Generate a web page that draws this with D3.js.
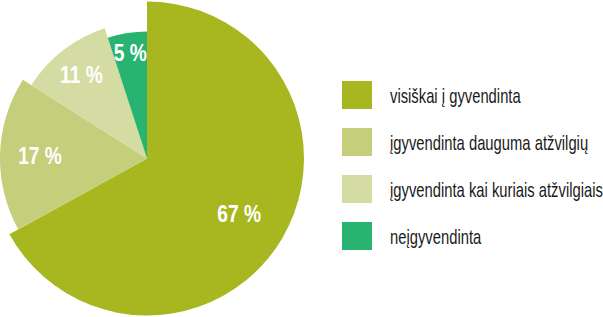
<!DOCTYPE html>
<html>
<head>
<meta charset="utf-8">
<script src="https://cdn.jsdelivr.net/npm/d3@7"></script>
<style>
  body { margin: 0; background: #fff; }
  svg { display: block; }
  .legend text { font-family: "Liberation Sans", Arial, sans-serif; font-size: 20px; fill: #1a1a1a; }
  .lbl { font-family: "Liberation Sans", Arial, sans-serif; font-weight: bold; font-size: 24px; fill: #fff; }
</style>
</head>
<body>
<div id="chart"></div>
<script>
// data
var categories = ["visiškai į gyvendinta", "įgyvendinta dauguma atžvilgių", "įgyvendinta kai kuriais atžvilgiais", "neįgyvendinta"];
var values = [67, 17, 11, 5];
var colors = ["#a8b71f", "#c4ce7b", "#d4dca3", "#28b470"];

var width = 603, height = 317;
var cx = 147, cy = 158.5;

var svg = d3.select("#chart").append("svg")
  .attr("width", width)
  .attr("height", height);

// every slice a bit smaller than the one before
var radius = d3.scaleLinear().domain([0, values.length - 1]).range([157, 127]);

var pie = d3.pie().sort(null).value(function(d) { return d; });
var arcs = pie(values);

var g = svg.append("g").attr("transform", "translate(" + cx + "," + cy + ")");

g.selectAll("path")
  .data(arcs)
  .enter().append("path")
  .attr("fill", function(d, i) { return colors[i]; })
  .attr("d", function(d, i) {
    return d3.arc().innerRadius(0).outerRadius(radius(i))(d);
  });

// condensed look: squeeze the text horizontally
var labelArc = d3.arc().innerRadius(107).outerRadius(107);
g.selectAll(".lbl")
  .data(arcs)
  .enter().append("text")
  .attr("class", "lbl")
  .attr("text-anchor", "middle")
  .attr("dy", "0.36em")
  .attr("transform", function(d) { return "translate(" + labelArc.centroid(d) + ") scale(0.8,1)"; })
  .text(function(d) { return d.data + " %"; });

// legend
var legY = d3.scaleBand().domain(categories).range([81, 269]);
var leg = svg.append("g").attr("class", "legend")
  .selectAll("g")
  .data(categories)
  .enter().append("g")
  .attr("transform", function(d) { return "translate(342," + legY(d) + ")"; });

leg.append("rect")
  .attr("width", 30)
  .attr("height", 28)
  .attr("fill", function(d, i) { return colors[i]; });

leg.append("text")
  .attr("transform", "translate(48,22) scale(0.74,1)")
  .text(function(d) { return d; });
</script>
</body>
</html>
